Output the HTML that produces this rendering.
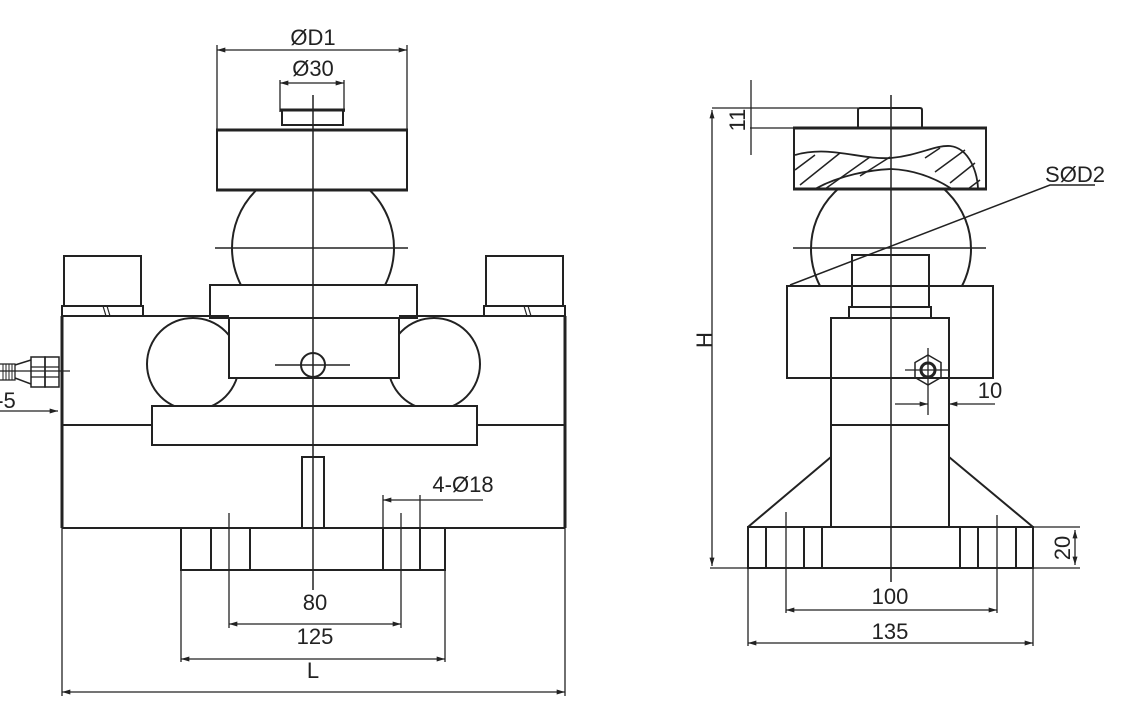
<!DOCTYPE html>
<html><head><meta charset="utf-8"><style>
html,body{margin:0;padding:0;background:#fff;}
svg{display:block}
text{font-family:"Liberation Sans",sans-serif;fill:#222;}
</style></head><body>
<svg width="1137" height="709" viewBox="0 0 1137 709" xmlns="http://www.w3.org/2000/svg">
<defs>
<marker id="a" viewBox="0 0 10 6" refX="10" refY="3" markerWidth="12" markerHeight="5" orient="auto-start-reverse" markerUnits="userSpaceOnUse"><path d="M0,0 L10,3 L0,6 z" fill="#222"/></marker>
<clipPath id="capclip"><rect x="795" y="130" width="190" height="58"/></clipPath>
<clipPath id="ballL"><rect x="0" y="189" width="1137" height="96"/></clipPath>
<clipPath id="rollL"><path d="M100,316 H229 V378 H300 V406 H100 Z"/></clipPath>
<clipPath id="rollR"><path d="M399,316 H530 V406 H330 V378 H399 Z"/></clipPath>
<clipPath id="ballR"><rect x="700" y="189" width="400" height="97"/></clipPath>
</defs>
<g fill="none" stroke="#222" stroke-width="2">
<line x1="217" y1="45" x2="217" y2="130" stroke-width="1.3"/>
<line x1="407" y1="45" x2="407" y2="130" stroke-width="1.3"/>
<line x1="217" y1="50" x2="407" y2="50" stroke-width="1.3" marker-start="url(#a)" marker-end="url(#a)"/>
<line x1="280" y1="80" x2="280" y2="112" stroke-width="1.3"/>
<line x1="344" y1="80" x2="344" y2="112" stroke-width="1.3"/>
<line x1="280" y1="83" x2="344" y2="83" stroke-width="1.3" marker-start="url(#a)" marker-end="url(#a)"/>
<line x1="280" y1="110" x2="345" y2="110" stroke-width="3"/>
<path d="M282,110 V125 H343 V110"/>
<line x1="216" y1="130" x2="408" y2="130" stroke-width="3"/>
<rect x="217" y="130" width="190" height="60"/>
<line x1="216" y1="190" x2="408" y2="190" stroke-width="3"/>
<circle cx="313" cy="248" r="81" clip-path="url(#ballL)"/>
<line x1="215" y1="248" x2="408" y2="248" stroke-width="1.5"/>
<rect x="64" y="256" width="77" height="50"/>
<rect x="62" y="306" width="81" height="10"/>
<line x1="103" y1="306" x2="106" y2="316" stroke-width="1.2"/><line x1="107" y1="306" x2="110" y2="316" stroke-width="1.2"/>
<rect x="486" y="256" width="77" height="50"/>
<rect x="484" y="306" width="81" height="10"/>
<line x1="524" y1="306" x2="527" y2="316" stroke-width="1.2"/><line x1="528" y1="306" x2="531" y2="316" stroke-width="1.2"/>
<path d="M62,316 H229 M399,316 H565"/>
<line x1="62" y1="316" x2="62" y2="528" stroke-width="3"/>
<line x1="565" y1="316" x2="565" y2="528" stroke-width="3"/>
<rect x="210" y="285" width="207" height="33"/>
<rect x="229" y="318" width="170" height="60"/>
<circle cx="313" cy="365" r="12"/>
<line x1="275" y1="365" x2="350" y2="365" stroke-width="1.5"/>
<circle cx="193" cy="364" r="46" clip-path="url(#rollL)"/>
<circle cx="434" cy="364" r="46" clip-path="url(#rollR)"/>
<rect x="152" y="406" width="325" height="39"/>
<path d="M62,425 H152 M477,425 H565"/>
<line x1="62" y1="528" x2="565" y2="528"/>
<rect x="302" y="457" width="22" height="71"/>
<rect x="181" y="528" width="264" height="42"/>
<path d="M211,528 V570 M250,528 V570 M383,528 V570 M420,528 V570"/>
<line x1="229" y1="513" x2="229" y2="628" stroke-width="1.3"/>
<line x1="401" y1="513" x2="401" y2="628" stroke-width="1.3"/>
<line x1="383" y1="495" x2="383" y2="528" stroke-width="1.3"/>
<line x1="420" y1="495" x2="420" y2="528" stroke-width="1.3"/>
<line x1="383" y1="500" x2="483" y2="500" stroke-width="1.3" marker-start="url(#a)"/>
<line x1="313" y1="95" x2="313" y2="590" stroke-width="1.5"/>
<line x1="229" y1="624" x2="401" y2="624" stroke-width="1.3" marker-start="url(#a)" marker-end="url(#a)"/>
<line x1="181" y1="570" x2="181" y2="662" stroke-width="1.3"/>
<line x1="445" y1="570" x2="445" y2="662" stroke-width="1.3"/>
<line x1="181" y1="659" x2="445" y2="659" stroke-width="1.3" marker-start="url(#a)" marker-end="url(#a)"/>
<line x1="62" y1="528" x2="62" y2="696" stroke-width="1.3"/>
<line x1="565" y1="528" x2="565" y2="696" stroke-width="1.3"/>
<line x1="62" y1="692" x2="565" y2="692" stroke-width="1.3" marker-start="url(#a)" marker-end="url(#a)"/>
<rect x="31" y="357" width="14" height="30" stroke-width="1.5"/>
<rect x="45" y="357" width="14" height="30" stroke-width="1.5"/>
<path d="M31,367 H59 M31,377 H59" stroke-width="1.2"/>
<path d="M31,360 L15,365 M31,384 L15,378" stroke-width="1.5"/>
<path d="M0,364 H15 V380 H0" stroke-width="1.3"/>
<path d="M3,364V380 M6,364V380 M9,364V380 M12,364V380" stroke-width="1"/>
<line x1="0" y1="371" x2="70" y2="371" stroke-width="1.2"/>
<line x1="0" y1="411" x2="58" y2="411" stroke-width="1.3" marker-end="url(#a)"/>

<path d="M858,128 V110 Q858,108 860,108 H920 Q922,108 922,110 V128"/>
<line x1="793" y1="128" x2="987" y2="128" stroke-width="3"/>
<rect x="794" y="128" width="192" height="61"/>
<line x1="793" y1="189" x2="987" y2="189" stroke-width="3"/>
<g clip-path="url(#capclip)" stroke-width="1.5">
<path d="M795,155 C830,145 860,160 891,158 C920,155 935,145 950,146 C970,148 978,175 978,189" stroke-width="1.8"/>
<path d="M815,189 C840,175 870,170 891,169 C915,170 935,178 952,189" stroke-width="1.8"/>
<path d="M795,170 L815,155 M800,185 L840,153 M825,189 L870,157 M860,176 L890,157 M925,158 L940,148 M935,172 L965,150 M950,183 L975,163 M968,189 L980,180"/>
</g>
<circle cx="891" cy="249" r="80" clip-path="url(#ballR)"/>
<line x1="793" y1="248" x2="986" y2="248" stroke-width="1.5"/>
<rect x="787" y="286" width="206" height="92"/>
<rect x="852" y="255" width="77" height="52"/>
<rect x="849" y="307" width="82" height="11"/>
<path d="M831,527 V318 H949 V527"/>
<line x1="831" y1="425" x2="949" y2="425"/>
<polygon points="928,355 941,362.5 941,377.5 928,385 915,377.5 915,362.5" stroke-width="1.5"/>
<circle cx="928" cy="370" r="7" stroke-width="3"/>
<line x1="905" y1="370" x2="950" y2="370" stroke-width="1.3"/>
<line x1="928" y1="348" x2="928" y2="415" stroke-width="1.3"/>
<line x1="949" y1="378" x2="949" y2="410" stroke-width="1.3"/>
<line x1="895" y1="404" x2="928" y2="404" stroke-width="1.3" marker-end="url(#a)"/>
<line x1="995" y1="404" x2="949" y2="404" stroke-width="1.3" marker-end="url(#a)"/>
<path d="M831,457 L748,527 M949,457 L1033,527"/>
<rect x="748" y="527" width="285" height="41"/>
<path d="M766,527V568 M804,527V568 M822,527V568 M960,527V568 M978,527V568 M1016,527V568"/>
<line x1="786" y1="512" x2="786" y2="613" stroke-width="1.3"/>
<line x1="997" y1="515" x2="997" y2="613" stroke-width="1.3"/>
<line x1="786" y1="610" x2="997" y2="610" stroke-width="1.3" marker-start="url(#a)" marker-end="url(#a)"/>
<line x1="748" y1="568" x2="748" y2="646" stroke-width="1.3"/>
<line x1="1033" y1="568" x2="1033" y2="646" stroke-width="1.3"/>
<line x1="748" y1="643" x2="1033" y2="643" stroke-width="1.3" marker-start="url(#a)" marker-end="url(#a)"/>
<line x1="891" y1="95" x2="891" y2="582" stroke-width="1.5"/>
<path d="M1033,527 H1080 M1033,568 H1080" stroke-width="1.3"/>
<line x1="1075" y1="530" x2="1075" y2="565" stroke-width="1.3" marker-start="url(#a)" marker-end="url(#a)"/>
<line x1="712" y1="108" x2="858" y2="108" stroke-width="1.3"/>
<line x1="750" y1="128" x2="794" y2="128" stroke-width="1.3"/>
<line x1="751" y1="80" x2="751" y2="155" stroke-width="1.3"/>
<line x1="712" y1="110" x2="712" y2="566" stroke-width="1.3" marker-start="url(#a)" marker-end="url(#a)"/>
<line x1="710" y1="568" x2="748" y2="568" stroke-width="1.3"/>
<polyline points="790,285 1050,185 1095,185" stroke-width="1.5"/>
</g>
<g font-size="22" text-anchor="middle">
<text x="313" y="45">ØD1</text>
<text x="313" y="76">Ø30</text>
<text x="315" y="610">80</text>
<text x="315" y="644">125</text>
<text x="313" y="678">L</text>
<text x="463" y="492">4-Ø18</text>
<text x="6" y="408">-5</text>
<text x="890" y="604">100</text>
<text x="890" y="639">135</text>
<text x="990" y="398">10</text>
<text x="1075" y="182">SØD2</text>
<text transform="translate(745,120) rotate(-90)">11</text>
<text transform="translate(712,340) rotate(-90)">H</text>
<text transform="translate(1070,548) rotate(-90)">20</text>
</g>
</svg>
</body></html>
